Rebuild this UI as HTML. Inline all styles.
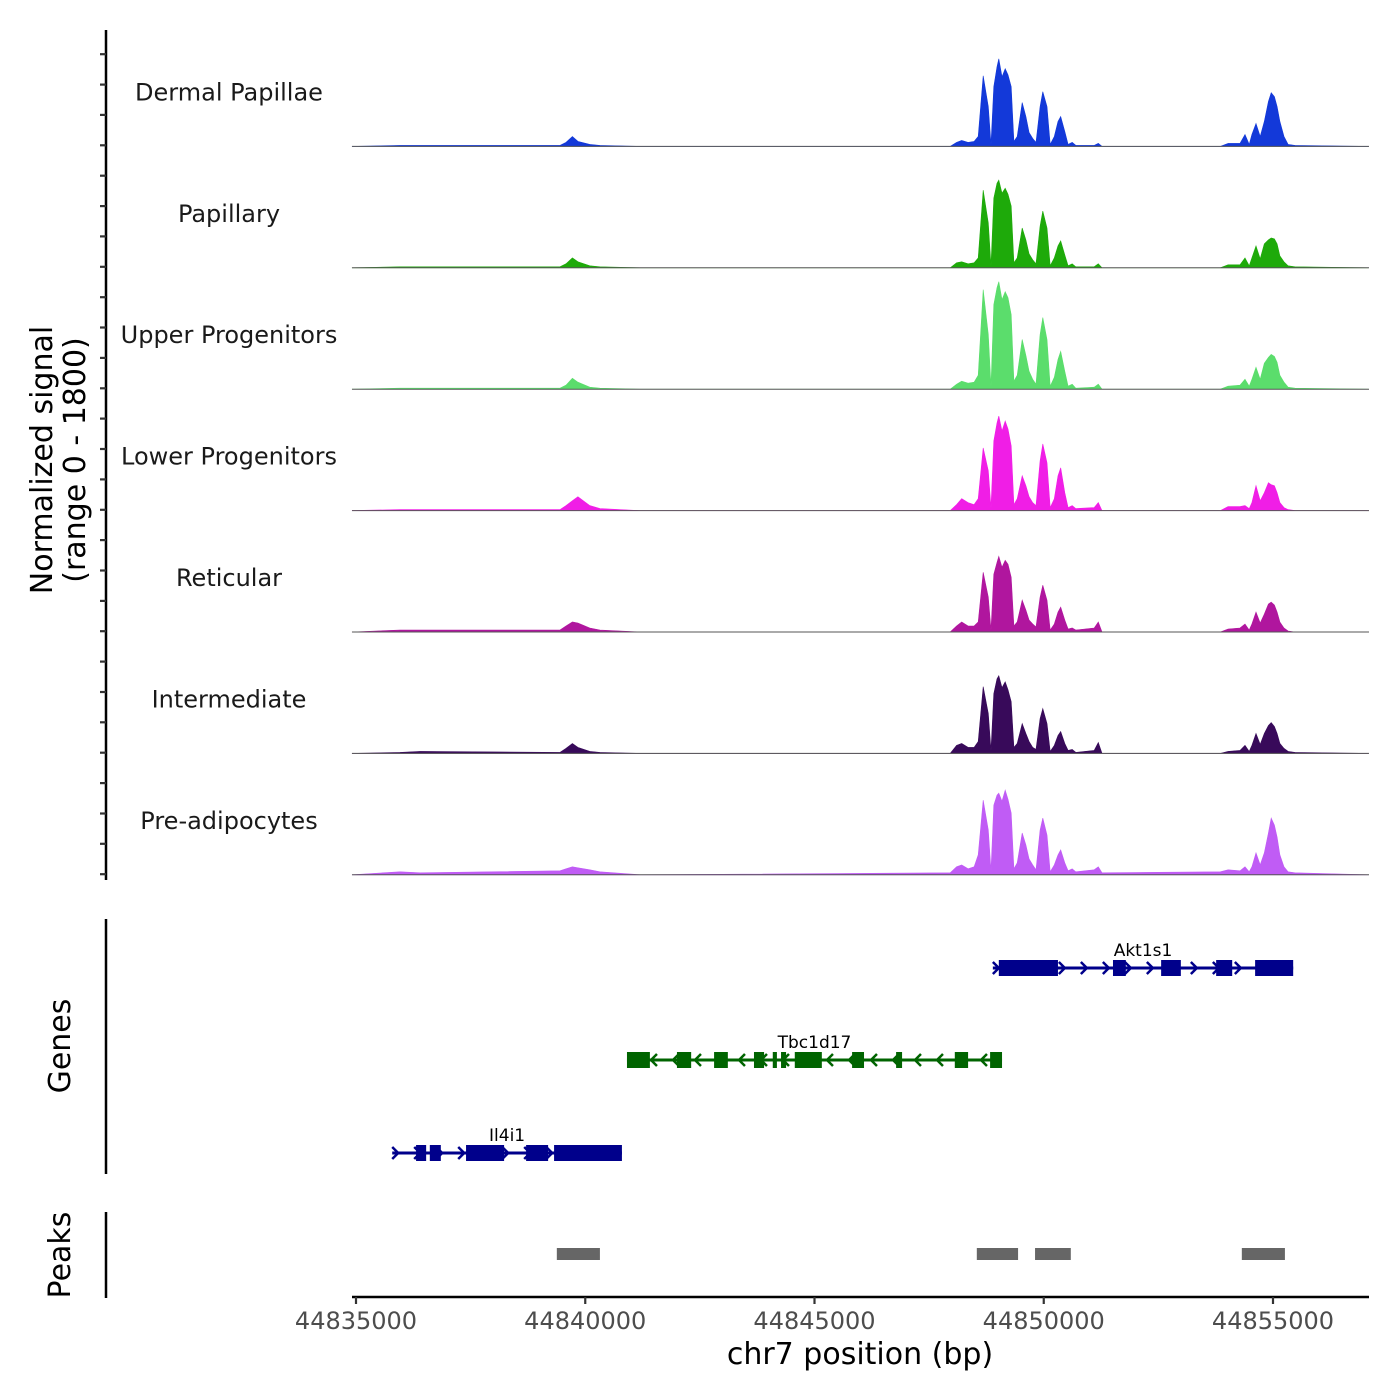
<!DOCTYPE html>
<html><head><meta charset="utf-8"><style>
html,body{margin:0;padding:0;background:#fff}
svg{display:block;font-family:"DejaVu Sans","Liberation Sans",sans-serif}
</style></head><body>
<svg id="chart" width="1400" height="1400" viewBox="0 0 1400 1400" xmlns="http://www.w3.org/2000/svg">
<g id="static">
  <text transform="translate(52,460) rotate(-90)" text-anchor="middle" font-size="30" fill="#000">Normalized signal</text>
  <text transform="translate(85,460) rotate(-90)" text-anchor="middle" font-size="30" fill="#000">(range 0 - 1800)</text>
  <text transform="translate(70,1046) rotate(-90)" text-anchor="middle" font-size="30" fill="#000">Genes</text>
  <text transform="translate(70,1255) rotate(-90)" text-anchor="middle" font-size="30" fill="#000">Peaks</text>
  <line x1="106" y1="30" x2="106" y2="880" stroke="#000" stroke-width="2.5"/>
  <line x1="106" y1="919" x2="106" y2="1174" stroke="#000" stroke-width="2.5"/>
  <line x1="106" y1="1212" x2="106" y2="1298" stroke="#000" stroke-width="2.5"/>
  <line x1="352" y1="1297" x2="1369" y2="1297" stroke="#000" stroke-width="2.5"/>
  <text x="860" y="1364" text-anchor="middle" font-size="30" fill="#000">chr7 position (bp)</text>
</g>
<g id="ticks"></g>
<g id="tracks"></g>
<g id="genes"></g>
<g id="peaks"></g>
</svg>
<script>
// ---- data ----
const regionStart = 44835000;
const xTickValues = [44835000, 44840000, 44845000, 44850000, 44855000];
const xTickLabels = ["44835000", "44840000", "44845000", "44850000", "44855000"];
const trackNames = ["Dermal Papillae", "Papillary", "Upper Progenitors", "Lower Progenitors", "Reticular", "Intermediate", "Pre-adipocytes"];
const trackColors = ["#1339d9", "#1eaa0a", "#5bdd6c", "#f01ee6", "#b0169e", "#380a5a", "#c05cf5"];
// positions in kb offset from regionStart
const positions = [-0.09,0.96,1.40,4.45,4.58,4.72,4.84,5.10,5.32,6.20,12.96,13.10,13.21,13.35,13.48,13.57,13.68,13.79,13.85,13.91,13.98,14.02,14.09,14.16,14.22,14.29,14.35,14.42,14.53,14.61,14.68,14.76,14.83,14.92,14.98,15.07,15.14,15.23,15.31,15.37,15.46,15.53,15.62,15.70,16.10,16.19,16.27,18.85,19.02,19.28,19.39,19.48,19.54,19.63,19.72,19.81,19.90,19.96,20.03,20.09,20.15,20.24,20.33,20.48,22.08];
// signal values (display units, 0-120 ~ 0-1800)
const sigDermal   = [0,1,1,1,4,10,5,2,1,0,0,4,6,4,5,10,71,40,2,60,80,88,70,78,72,60,5,10,44,30,14,8,4,40,55,40,2,10,25,30,15,2,4,1,1,3,0,0,3,3,12,2,12,23,10,25,45,54,50,40,25,10,2,1,0];
const sigPapillary= [0,1,1,1,4,10,6,2,1,0,0,5,6,4,5,10,78,45,2,70,85,88,75,80,74,62,5,10,40,28,14,8,4,42,57,40,2,10,22,27,13,2,4,1,1,4,0,0,3,3,10,2,10,22,9,24,28,30,29,24,12,6,2,1,0];
const sigUpper    = [0,1,1,1,4,11,7,2,1,0,0,5,8,6,7,14,100,55,3,85,102,108,90,98,92,75,8,14,50,34,18,10,5,55,72,50,3,12,30,38,18,3,5,1,2,5,0,0,3,4,10,3,10,22,10,26,32,35,33,27,14,7,2,1,0];
const sigLower    = [0,1,1,1,5,10,14,5,2,0,0,6,12,8,6,12,63,40,3,70,88,95,80,90,82,65,6,12,35,25,14,8,5,50,67,48,3,12,35,43,18,3,5,2,3,8,0,0,4,4,5,2,8,25,10,18,28,26,25,18,8,3,1,0,0];
const sigRetic    = [0,2,2,2,6,10,9,4,2,0,0,6,10,6,6,10,60,35,2,58,70,76,65,72,68,55,6,10,32,22,12,8,5,35,47,32,2,8,20,25,12,3,4,2,4,10,0,0,3,4,8,2,8,20,9,18,28,30,27,20,10,4,1,0,0];
const sigInter    = [0,1,2,1,5,10,6,2,1,0,0,8,10,6,6,12,67,40,3,60,75,78,66,72,64,52,6,10,30,20,12,6,4,35,45,30,2,8,18,22,10,3,4,1,3,11,0,0,2,3,8,2,8,20,9,20,28,31,27,20,10,5,2,1,0];
const sigPread    = [0,3,2,4,6,8,7,5,3,0,2,8,10,6,8,20,75,45,4,70,80,82,74,85,76,62,6,12,42,30,16,10,5,45,57,40,3,10,20,25,12,4,6,3,5,8,2,3,5,4,8,3,8,22,10,22,42,57,50,38,20,8,3,2,0];
const trackSignals = [sigDermal, sigPapillary, sigUpper, sigLower, sigRetic, sigInter, sigPread];

// genes: start/end in kb offset, strand, exon starts/ends in kb offset
const geneNames = ["Akt1s1", "Tbc1d17", "Il4i1"];
const geneColors = ["#00008b", "#006400", "#00008b"];
const geneStrand = ["+", "-", "+"];
const geneStart = [13.89, 5.91, 0.79];
const geneEnd = [20.44, 14.09, 5.80];
const geneRow = [0, 1, 2];
const exonStarts = [[14.02,16.51,17.56,18.76,19.61],[5.91,7.00,7.81,8.68,9.09,9.27,9.57,10.82,11.78,13.06,13.83],[1.31,1.61,2.40,3.71,4.32]];
const exonEnds   = [[15.31,16.79,17.99,19.11,20.44],[6.41,7.31,8.11,8.90,9.18,9.38,10.16,11.08,11.91,13.35,14.09],[1.53,1.85,3.23,4.19,5.80]];
// peaks in kb offset
const peakStarts = [4.38, 13.54, 14.81, 19.32];
const peakEnds = [5.32, 14.44, 15.59, 20.26];

// ---- scales ----
const NS = "http://www.w3.org/2000/svg";
const x0 = 356, pxPerKb = 45.85;
function xs(kb){ return x0 + kb*pxPerKb; }
function xbp(bp){ return xs((bp-regionStart)/1000); }
const trackTop = 25, trackH = 121.4, yMax = 120;
function ys(i, v){ const base = trackTop + (i+1)*trackH; return base - v/yMax*(trackH-2); }
function mk(tag, attrs, parent){ const e=document.createElementNS(NS,tag); for(const k in attrs) e.setAttribute(k, attrs[k]); parent.appendChild(e); return e; }

// signal y ticks
const gT = document.getElementById('ticks');
for(let y=54.2; y<880; y+=30.37){
  const t = mk('line',{x1:100,x2:106,y1:y.toFixed(1),y2:y.toFixed(1),stroke:'#333','stroke-width':2.2},gT);
  
  
}
xTickValues.forEach((v,i)=>{
  const x = xbp(v);
  const t = mk('line',{x1:x,x2:x,y1:1297,y2:1304,stroke:'#333','stroke-width':2.2},gT);
  
  
  const l = mk('text',{x:x,y:1329,'text-anchor':'middle','font-size':24,fill:'#4d4d4d'},gT);
  l.textContent = xTickLabels[i];
  
  
});

// tracks
const gTr = document.getElementById('tracks');
trackSignals.forEach((sig,i)=>{
  const g = mk('g',{},gTr);
  
  
  const base = ys(i,0);
  let d = 'M'+xs(positions[0]).toFixed(1)+','+base;
  positions.forEach((p,j)=>{ d += ' L'+xs(p).toFixed(1)+','+ys(i,sig[j]).toFixed(1); });
  d += ' L'+xs(positions[positions.length-1]).toFixed(1)+','+base+' Z';
  const a = mk('path',{d:d,fill:trackColors[i],stroke:trackColors[i],'stroke-width':0.6},g);
  
  
  const bl = mk('line',{x1:352,x2:1369,y1:base,y2:base,stroke:'#555','stroke-width':1},g);
  
  
  const lb = mk('text',{x:229,y:base-46,'text-anchor':'middle','font-size':24,fill:'#1a1a1a'},g);
  lb.textContent = trackNames[i];
  
  
});

// genes
const gG = document.getElementById('genes');
const rowY = [968, 1060, 1153];
geneNames.forEach((n,i)=>{
  const g = mk('g',{},gG);
  
  
  const y = rowY[geneRow[i]], c = geneColors[i];
  const xa = xs(geneStart[i]), xb = xs(geneEnd[i]);
  mk('line',{x1:xa,x2:xb,y1:y,y2:y,stroke:c,'stroke-width':3},g);
  const dir = geneStrand[i]==='+'?1:-1;
  for(let x=xa+4; x<xb; x+=22){
    mk('path',{d:`M${x-4*dir},${y-6} L${x+2*dir},${y} L${x-4*dir},${y+6}`,fill:'none',stroke:c,'stroke-width':2.5},g);
  }
  exonStarts[i].forEach((s,k)=>{
    const r = mk('rect',{x:xs(s),y:y-8,width:Math.max(2,xs(exonEnds[i][k])-xs(s)),height:16,fill:c},g);
    
    
  });
  const t = mk('text',{x:(xa+xb)/2,y:y-12,'text-anchor':'middle','font-size':17,fill:'#000'},g);
  t.textContent = n;
  
  
});

// peaks
const gP = document.getElementById('peaks');
peakStarts.forEach((s,i)=>{
  const r = mk('rect',{x:xs(s),y:1248,width:xs(peakEnds[i])-xs(s),height:12,fill:'#666'},gP);
  
  
});
</script>
</body></html>
